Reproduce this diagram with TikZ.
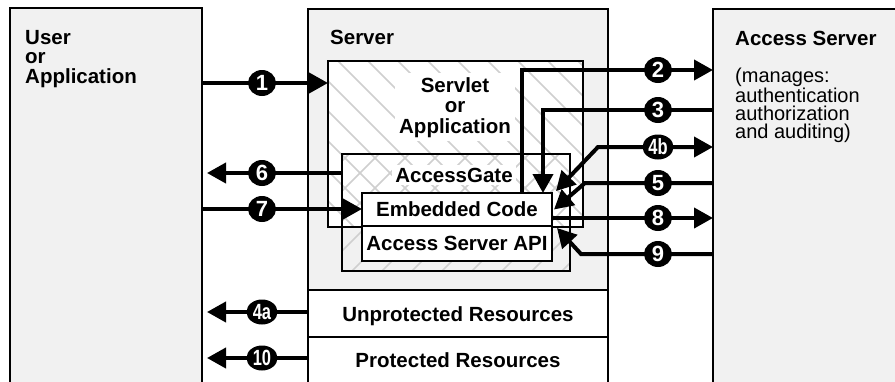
\documentclass[tikz,border=0pt]{standalone}
\usepackage{fontspec}
\setmainfont{Liberation Sans}
\usepackage{graphicx}
\usetikzlibrary{arrows.meta,shapes.geometric}
\definecolor{boxgray}{HTML}{F1F1F1}
\definecolor{hatchgray}{HTML}{CFCFCF}
\begin{document}
\begin{tikzpicture}[x=1pt,y=-1pt,
  box/.style={draw, line width=2pt, inner sep=0pt, outer sep=0pt, anchor=north west},
  lbl/.style={font=\fontsize{20.5}{19.5}\selectfont\bfseries, inner sep=0pt},
  reg/.style={font=\fontsize{20}{18.2}\selectfont, inner sep=0pt},
  tipA/.tip={Triangle[length=19pt,width=20pt]},
  flow/.style={line width=4pt, -tipA},
  num/.style={ellipse, fill=black, text=white, inner sep=0pt, minimum width=28pt,
    minimum height=26pt, font=\fontsize{22}{22}\selectfont\bfseries},
  numw/.style={ellipse, fill=black, text=white, inner sep=0pt, minimum width=31pt,
    minimum height=25pt, font=\fontsize{22}{22}\selectfont\bfseries},
  hatch/.style={draw=hatchgray, line width=1.6pt}
]
\useasboundingbox (0,0) rectangle (895,381);

% outer boxes
\node[box, fill=boxgray, minimum width=192pt, minimum height=395pt] (user) at (10,8) {};
\node[box, fill=boxgray, minimum width=300pt, minimum height=281pt] (server) at (308,9) {};
\node[box, fill=white, minimum width=300pt, minimum height=47pt] (unprot) at (308,290) {};
\node[box, fill=white, minimum width=300pt, minimum height=60pt] (prot) at (308,337) {};
\node[box, fill=boxgray, minimum width=200pt, minimum height=395pt] (accsrv) at (713,9) {};

% servlet box fill and hatch
\fill[white] (328,61) rectangle (583,227);
\begin{scope}
  \clip (328,61) rectangle (583,227);
  \foreach \k in {-180,-150,...,270} \draw[hatch] (338+\k,61) -- ++(166,166);
\end{scope}
% accessgate hatch
\begin{scope}
  \clip (342,154) rectangle (570,271);
  \foreach \k in {-120,-90,...,240} \draw[hatch] (352+\k,271) -- ++(117,-117);
\end{scope}
\node[box, minimum width=255pt, minimum height=166pt] (servlet) at (328,61) {};
\node[box, minimum width=228pt, minimum height=117pt] (gate) at (342,154) {};
\node[box, fill=white, minimum width=190pt, minimum height=33pt] (embedded) at (362,193) {};
\node[box, fill=white, minimum width=190pt, minimum height=35pt] (api) at (362,226) {};

% texts
\node[lbl, anchor=north west, align=left] (usertxt) at (25,30) {User\\or\\Application};
\node[lbl, anchor=base west] (servertxt) at (330,44) {Server};
\node[lbl, anchor=north, align=center, fill=white, inner sep=4pt,
  font=\fontsize{20.5}{20.5}\selectfont\bfseries] (servlettxt) at (455,73) {Servlet\\or\\Application};
\node[lbl, anchor=base, fill=white, inner sep=3pt] (gatetxt) at (454,182) {AccessGate};
\node[lbl, anchor=base] (embtxt) at (457,216) {Embedded Code};
\node[lbl, anchor=base] (apitxt) at (457,250) {Access Server API};
\node[lbl, anchor=base] (unprottxt) at (458,321) {Unprotected Resources};
\node[lbl, anchor=base] (prottxt) at (458,367) {Protected Resources};
\node[lbl, anchor=base west] (acctitle) at (735,45) {Access Server};
\node[reg, anchor=north west, align=left] (acctxt) at (735,68) {(manages:\\authentication\\authorization\\and auditing)};

% label positions
\coordinate (c1) at (262,83);
\coordinate (c6) at (262,173);
\coordinate (c7) at (262,209);
\coordinate (c4a) at (262,312);
\coordinate (c10) at (262,358);
\coordinate (c2) at (658,70);
\coordinate (c3) at (658,110);
\coordinate (c4b) at (658,147);
\coordinate (c5) at (658,183);
\coordinate (c8) at (658,218);
\coordinate (c9) at (658,254);

% left connectors
\draw[flow] (user.east |- c1) -- (servlet.west |- c1);
\draw[flow] (gate.west |- c6) -- ([xshift=5pt]user.east |- c6);
\draw[flow] (user.east |- c7) -- (embedded.west |- c7);
\draw[flow] (unprot.west |- c4a) -- ([xshift=5pt]user.east |- c4a);
\draw[flow] (prot.west |- c10) -- ([xshift=5pt]user.east |- c10);

% right connectors
\draw[flow] ([xshift=65pt]embedded.north) |- (accsrv.west |- c2);
\draw[flow] (accsrv.west |- c3) -| ([xshift=86pt]embedded.north);
\coordinate (k4b) at (598,147);
\draw[line width=4pt, tipA-tipA] ([shift={(4,-2)}]embedded.north east) -- (k4b) -- (accsrv.west |- c4b);
\coordinate (k5) at (585,183);
\draw[flow] (accsrv.west |- c5) -- (k5) -- ([xshift=2pt]embedded.east);
\draw[flow] (embedded.east |- c8) -- (accsrv.west |- c8);
\coordinate (k9) at (581,254);
\draw[flow] (accsrv.west |- c9) -- (k9) -- ([shift={(5,2)}]api.north east);

% number badges
\node[num] (n1) at (c1) {1};
\node[num] (n6) at (c6) {6};
\node[num] (n7) at (c7) {7};
\node[numw] (n4a) at (c4a) {\scalebox{0.75}[1]{4a}};
\node[numw] (n10) at (c10) {\scalebox{0.75}[1]{10}};
\node[num] (n2) at (c2) {2};
\node[num] (n3) at (c3) {3};
\node[numw] (n4b) at (c4b) {\scalebox{0.75}[1]{4b}};
\node[num] (n5) at (c5) {5};
\node[num] (n8) at (c8) {8};
\node[num] (n9) at (c9) {9};
\end{tikzpicture}
\end{document}
